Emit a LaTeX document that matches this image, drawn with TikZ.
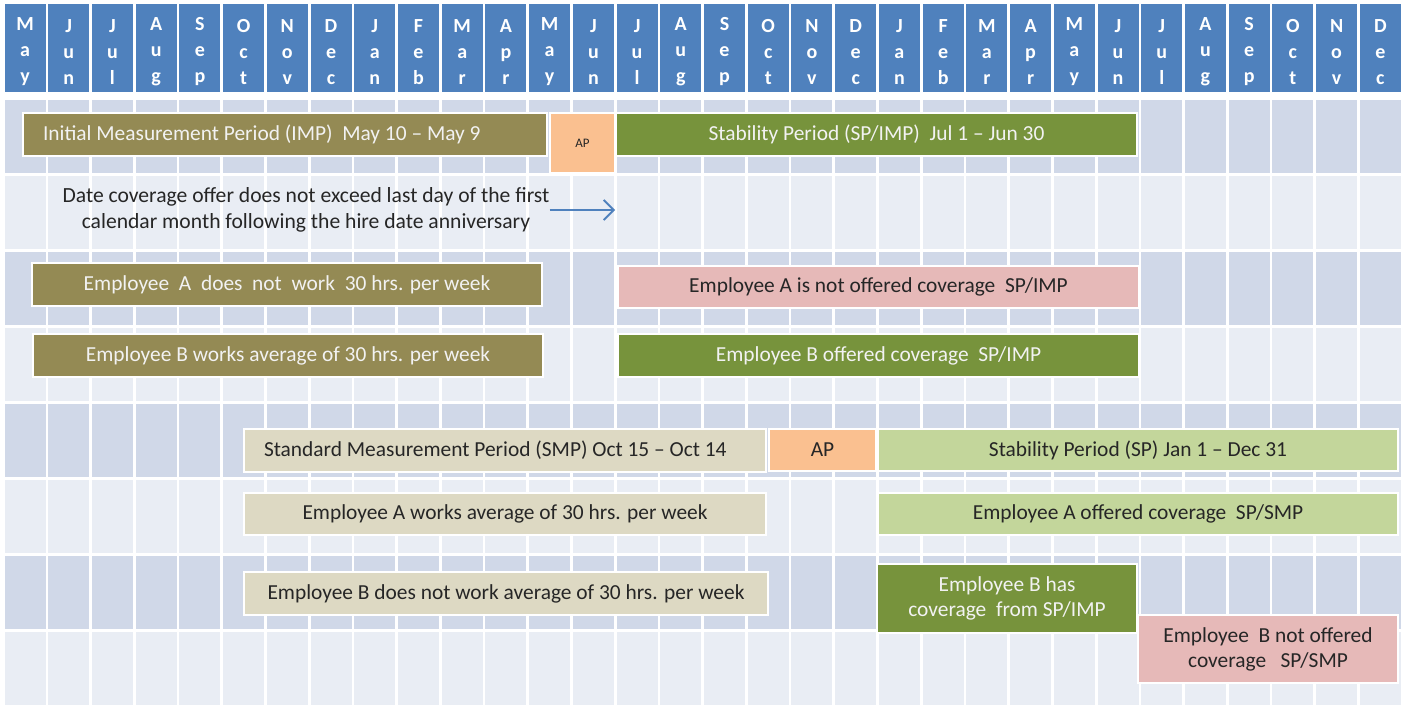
\documentclass[tikz,border=0pt]{standalone}
\usepackage{fontspec}
\setmainfont{Carlito}
\usetikzlibrary{arrows.meta}
\definecolor{hdrblue}{HTML}{4F81BD}
\definecolor{rowdark}{HTML}{D0D8E8}
\definecolor{rowlight}{HTML}{E9EDF4}
\definecolor{olivefill}{HTML}{948A54}
\definecolor{apfill}{HTML}{FAC090}
\definecolor{spgreen}{HTML}{77933C}
\definecolor{nopink}{HTML}{E6B9B8}
\definecolor{smpbeige}{HTML}{DDD9C3}
\definecolor{lightgreen}{HTML}{C3D69B}
\definecolor{darktext}{HTML}{262626}
\definecolor{lighttext}{HTML}{F2F2F2}
\tikzset{
  monthcell/.style = {fill=hdrblue, minimum width=41pt, minimum height=88pt, inner sep=0pt},
  monthtext/.style = {text=white, align=center, inner sep=0pt, yshift=-4pt,
    font=\bfseries\fontsize{20}{26}\selectfont},
  bar/.style = {draw=white, line width=2pt, inner sep=0pt, align=center,
    font=\fontsize{21.4}{25}\selectfont},
  olivebar/.style = {bar, fill=olivefill, text=lighttext},
  greenbar/.style = {bar, fill=spgreen, text=lighttext},
  apbox/.style = {bar, fill=apfill, text=darktext},
  pinkbar/.style = {bar, fill=nopink, text=darktext},
  beigebar/.style = {bar, fill=smpbeige, text=darktext},
  lgreenbar/.style = {bar, fill=lightgreen, text=darktext}
}
\begin{document}
\begin{tikzpicture}[x=1pt, y=-1pt]
\useasboundingbox[fill=white] (0,0) rectangle (1406,708);

% 月の見出し
\foreach \a/\b/\c [count=\i from 0] in {M/a/y, J/u/n, J/u/l, A/u/g, S/e/p, O/c/t, N/o/v, D/e/c,
  J/a/n, F/e/b, M/a/r, A/p/r, M/a/y, J/u/n, J/u/l, A/u/g, S/e/p, O/c/t, N/o/v, D/e/c,
  J/a/n, F/e/b, M/a/r, A/p/r, M/a/y, J/u/n, J/u/l, A/u/g, S/e/p, O/c/t, N/o/v, D/e/c}
  \node[monthcell, label={[monthtext]center:{\a\\\b\\\c}}] (m\i) at ({25+43.72*\i},48) {};

%背景のマス目
\foreach \i in {0,...,31}{
  \foreach \r in {0,2,4,6}
    \fill[rowdark] ({4.5+43.72*\i},{100+76*\r}) rectangle ++(41,73);
  \foreach \r in {1,3,5,7}
    \fill[rowlight] ({4.5+43.72*\i},{100+76*\r}) rectangle ++(41,73);
}

% 初回測定期間
\node[olivebar, text width=484pt, align=flush left, inner xsep=20pt, minimum height=43pt] (imp) at (285,134.5)
  {Initial Measurement Period (IMP)\ \ May 10 – May 9};
\node[apbox, minimum width=65pt, minimum height=60pt, font=\fontsize{13}{15}\selectfont] (ap1) at (582.5,143) {AP};
\node[greenbar, minimum width=521pt, minimum height=43pt] (sp1) at (876.5,134.5)
  {Stability Period (SP/IMP)\ \ Jul 1 – Jun 30};

%注記と矢印
\node[inner sep=0pt, align=center, text=darktext, font=\fontsize{21.6}{26}\selectfont] (note) at (306,210)
  {Date coverage offer does not exceed last day of the first\\calendar month following the hire date anniversary};
\draw[hdrblue, line width=1.8pt, -{Straight Barb[length=10pt,width=20pt]}] (note.east) -- (note.east -| sp1.west);

% 従業員A・B(IMP)
\node[olivebar, minimum width=510pt, minimum height=43pt] (empA1) at (287,284.5)
  {Employee\ \ A\ \ does\ \ not\ \ work\ \ 30 hrs. per week};
\node[pinkbar, minimum width=521pt, minimum height=42pt] (noA1) at (878.5,287)
  {Employee A is not offered coverage\ \ SP/IMP};
\node[olivebar, minimum width=510pt, minimum height=43pt] (empB1) at (288,355.5)
  {Employee B works average of 30 hrs. per week};
\node[greenbar, minimum width=521pt, minimum height=43pt] (offB1) at (878.5,355.5)
  {Employee B offered coverage\ \ SP/IMP};

% 標準測定期間
\node[beigebar, text width=482pt, align=flush left, inner xsep=20pt, minimum height=43pt] (smp) at (505,450.5)
  {Standard Measurement Period (SMP) Oct 15 – Oct 14};
\node[apbox, minimum width=107pt, minimum height=42pt] (ap2) at (822.5,450) {AP};
\node[lgreenbar, minimum width=520pt, minimum height=42pt] (sp2) at (1138,450)
  {Stability Period (SP) Jan 1 – Dec 31};

% 従業員A・B(SMP)
\node[beigebar, minimum width=522pt, minimum height=42pt] (empA2) at (505,514)
  {Employee A works average of 30 hrs. per week};
\node[lgreenbar, minimum width=520pt, minimum height=42pt] (offA2) at (1138,514)
  {Employee A offered coverage\ \ SP/SMP};
\node[beigebar, minimum width=524pt, minimum height=43pt] (empB2) at (506,593.5)
  {Employee B does not work average of 30 hrs. per week};
\node[greenbar, minimum width=260pt, minimum height=69pt] (hasB2) at (1007,598.5)
  {Employee B has\\coverage\ \ from SP/IMP};
\node[pinkbar, minimum width=260pt, minimum height=68pt] (noB2) at (1268,649)
  {Employee\ \ B not offered\\coverage\ \ \ SP/SMP};
\end{tikzpicture}
\end{document}
